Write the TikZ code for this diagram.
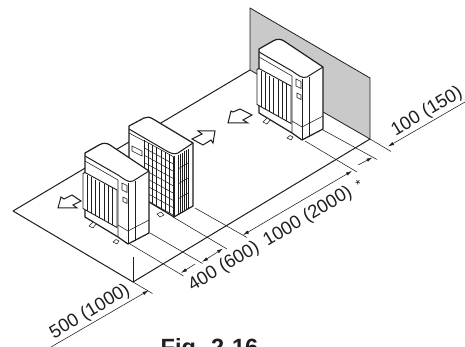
\documentclass[tikz,border=0pt]{standalone}
\usepackage{fontspec}
\setmainfont{Liberation Sans}
\usetikzlibrary{arrows.meta}
\definecolor{wallgray}{HTML}{C9C9C9}
\definecolor{inkc}{HTML}{1E1E1E}
\tikzset{
  thin line/.style={draw=inkc,line width=0.55pt},
  mid line/.style={draw=inkc,line width=1.0pt,line join=round},
  body/.style={fill=white,draw=inkc,line width=1.2pt,line join=round},
  dimline/.style={draw=inkc,line width=0.55pt},
  tipend/.style={-{Latex[length=6pt,width=3.4pt]}},
  tipboth/.style={{Latex[length=6pt,width=3.4pt]}-{Latex[length=6pt,width=3.4pt]}},
  dimtext/.style={font=\fontsize{18.5}{20}\selectfont,text=inkc,rotate=31,inner sep=0pt},
  blockarrow/.style={fill=white,draw=inkc,line width=1pt,line join=miter},
}
\newcommand{\outdoorunit}{%
  \path[body] (85,153) -- (99,145) .. controls (103,142.5) and (107,143) .. (110,145) -- (149,171) -- (149,233)
     -- (128,244) -- (118,237) -- (85,217) -- cycle;
  \draw[mid line] (85,156) -- (118,175) .. controls (124,179) and (128,183) .. (133,181) -- (149,171);
  \draw[thin line] (85,161) -- (118,180) -- (118,237);
  \draw[thin line] (128,183) -- (128,244);
  \draw[thin line] (135,181) -- (135,241);
  \draw[thin line] (118,225) -- (128,231) -- (149,220);
  \draw[thin line] (122,183) -- (127,185.5) -- (127,192.5) -- (122,190) -- cycle;
  \draw[thin line] (123,197) -- (127,199) -- (127,203.5) -- (123,201.5) -- cycle;
  \path[fill=white,draw=inkc,line width=0.9pt] (83,173.5) -- (85,172.5) -- (117,190) -- (117,227.5) -- (83,208.5) -- cycle;
  \foreach \x in {87,91,95.5,99.5,104,108,112.5}
    {\draw[thin line] (\x,{173.5+(\x-83)*0.5}) -- (\x,{208.5+(\x-83)*0.56});}
  \draw[thin line,fill=white] (93,222) -- (96,224) -- (93,228) -- (89,226) -- cycle;
  \draw[thin line,fill=white] (116,239.5) -- (119,241) -- (117,244) -- (113,242) -- cycle;
}
\begin{document}
\begin{tikzpicture}[x=1pt,y=-1pt]
\useasboundingbox (0,0) rectangle (465,347);
\clip (0,0) rectangle (465,347);
\fill[white] (0,0) rectangle (465,347);

\path[fill=wallgray,draw=inkc,line width=0.8pt,line join=round] (250,8) -- (370,78) -- (370,139) -- (250,70) -- cycle;

\coordinate (floorL) at (13,211);
\coordinate (floorB) at (133,282);
\coordinate (wallB) at (370,139);
\coordinate (wallL) at (250,70);
\draw[mid line] (floorL) -- (floorB) -- (wallB);
\draw[mid line] (floorL) -- (wallL);
\draw[thin line] (133,257) -- (floorB);

\coordinate (e1a) at (floorB);   \coordinate (e1b) at (152.5,293.5);
\coordinate (e2a) at (130,244);  \coordinate (e2b) at (183.5,276);
\coordinate (e3a) at (150,233);  \coordinate (e3b) at (202.5,263.5);
\coordinate (e4a) at (173,217);  \coordinate (e4b) at (227,249);
\coordinate (e5a) at (195,208);  \coordinate (e5b) at (247,237.5);
\coordinate (e6a) at (305,141);  \coordinate (e6b) at (357,172);
\coordinate (e7a) at (323,130);  \coordinate (e7b) at (377,159.5);
\coordinate (e8a) at (wallB);    \coordinate (e8b) at (391,151.5);
\foreach \n in {1,2,3,4,5,6,7,8}{\draw[dimline] (e\n a) -- (e\n b);}

\coordinate (d1s) at (51,347);   \coordinate (d1t) at (148.5,290.5);
\coordinate (d2s) at (195,264);  \coordinate (d2t) at (181,273);
\coordinate (d3s) at (202,262);  \coordinate (d3t) at (223,248.5);
\coordinate (d4s) at (243,235);  \coordinate (d4t) at (352,171);
\coordinate (d5s) at (358,165);  \coordinate (d5t) at (372.5,157.5);
\coordinate (d6s) at (465,102);  \coordinate (d6t) at (388,146.5);
\draw[dimline,tipend] (d1s) -- (d1t);
\draw[dimline,tipend] (d2s) -- (d2t);
\draw[dimline,tipboth] (d3s) -- (d3t);
\draw[dimline,tipboth] (d4s) -- (d4t);
\draw[dimline,tipend] (d5s) -- (d5t);
\draw[dimline,tipend] (d6s) -- (d6t);

\begin{scope}
  \path[body] (129,126) -- (144,118) .. controls (147,116.5) and (150,117) .. (153,119) -- (193,143) -- (193,206) -- (174,217) -- (129,190) -- cycle;
  \draw[mid line] (129,129) -- (165,150) .. controls (170,153) and (174,155) .. (178,153) -- (193,143);
  \draw[thin line] (129,133) -- (144,141);
  \draw[thin line] (174,156) -- (174,217);
  \draw[thin line] (132,146) -- (142,151) -- (142,156) -- (132,151) -- cycle;
  \foreach \x in {144,148.2,152.4,156.6,160.8,165,169.2,173.4}
    {\draw[thin line] (\x,{140.5+(\x-144)*0.55}) -- (\x,{199.5+(\x-144)*0.55});}
  \foreach \d in {0,7.3,14.6,21.9,29.2,36.5,43.8,51.1,58.4}
    {\draw[thin line] (144,{140.5+\d}) -- (174,{157+\d});}
  \foreach \x in {178,180,182,184,186,188}
    {\draw[thin line] (\x,{155-(\x-178)*0.6}) -- (\x,{214-(\x-178)*0.6});}
  \foreach \d in {14,29,44}
    {\draw[thin line] (178,{155+\d}) -- (188,{149+\d});}
  \draw[thin line,fill=white] (157,214) -- (161,212) -- (164,215) -- (160,217) -- cycle;
\end{scope}

\begin{scope}
  \outdoorunit
\end{scope}
\begin{scope}[shift={(174,-104)}]
  \outdoorunit
\end{scope}

\path[blockarrow] (58,208) -- (61,197) -- (64,199) -- (72,195) -- (81,201) -- (73,205) -- (77,208) -- cycle;
\path[blockarrow] (215,131) -- (213,143) -- (211,140) -- (203,145) -- (192,139) -- (202,134) -- (198,131) -- cycle;
\path[blockarrow] (228,123) -- (231,111) -- (233,112) -- (240,109) -- (252,115) -- (243,120) -- (248,123) -- cycle;

\node[dimtext] (l500) at (90,312) {500 (1000)};
\node[dimtext] (l400) at (224,267) {400 (600)};
\node[dimtext] (l1000) at (308,217) {1000 (2000)};
\node[dimtext,font=\fontsize{13}{14}\selectfont,rotate=0] (lstar) at (359,184) {*};
\node[dimtext] (l100) at (427,112) {100 (150)};
\node[font=\bfseries\fontsize{23.5}{25}\selectfont,text=inkc,inner sep=0pt,anchor=base] (fig) at (209.5,355) {Fig. 2-16};
\end{tikzpicture}
\end{document}
